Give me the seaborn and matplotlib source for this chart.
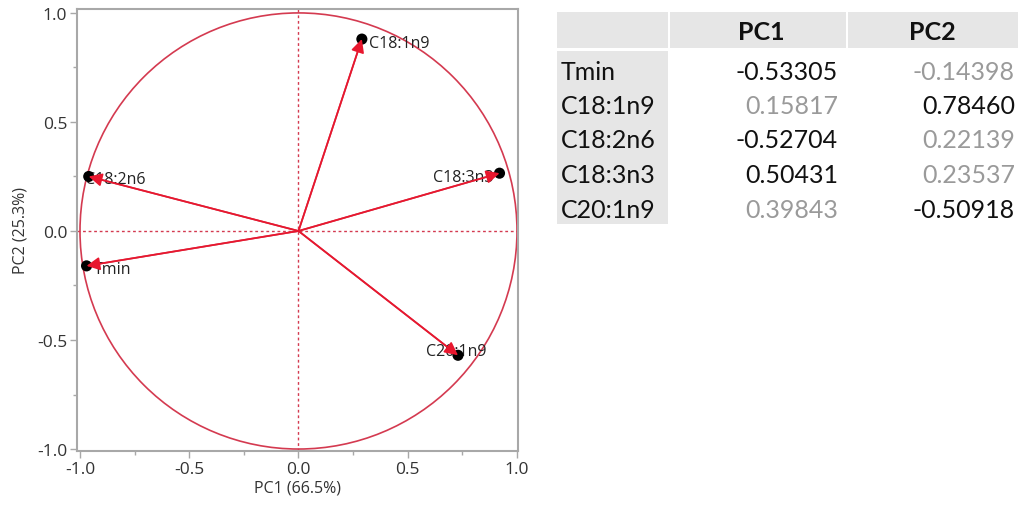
import matplotlib
matplotlib.use("Agg")
import matplotlib.pyplot as plt
from matplotlib.patches import Circle, Rectangle
import seaborn as sns
import pandas as pd

# Loadings (correlations of each variable with PC1 / PC2)
variables = ["Tmin", "C18:1n9", "C18:2n6", "C18:3n3", "C20:1n9"]
load_pc1 = [-0.97, 0.29, -0.96, 0.92, 0.73]
load_pc2 = [-0.16, 0.88, 0.25, 0.265, -0.57]

# Eigenvector table
eig_pc1 = [-0.53305, 0.15817, -0.52704, 0.50431, 0.39843]
eig_pc2 = [-0.14398, 0.78460, 0.22139, 0.23537, -0.50918]
eig_pc1_txt = ["-0.53305", "0.15817", "-0.52704", "0.50431", "0.39843"]
eig_pc2_txt = ["-0.14398", "0.78460", "0.22139", "0.23537", "-0.50918"]

pc1_label = "PC1 (66.5%)"
pc2_label = "PC2 (25.3%)"
x_ticks = [-1.0, -0.5, 0.0, 0.5, 1.0]
y_ticks = [-1.0, -0.5, 0.0, 0.5, 1.0]

sns.set_theme(style="ticks")
plt.rcParams["font.family"] = ["Open Sans", "DejaVu Sans"]

RED = "#d43a50"
HEAD = "#e8172e"
GRID = "#a8a8a8"

df = pd.DataFrame({"var": variables, "pc1": load_pc1, "pc2": load_pc2})

W, H = 1022, 510
fig = plt.figure(figsize=(W / 100, H / 100), dpi=100)
ax = fig.add_axes([77 / W, (H - 452) / H, 441 / W, 442 / H])

ax.set_xlim(-1.0137, 1.0046)
ax.set_ylim(-1.009, 1.018)

# reference lines through the origin
ax.axhline(0, color=RED, lw=1.0, ls=(0, (2, 2)), zorder=1)
ax.axvline(0, color=RED, lw=1.0, ls=(0, (2, 2)), zorder=1)

# unit correlation circle
ax.add_patch(Circle((0, 0), 1.0, fill=False, ec=RED, lw=1.2, zorder=2))

# endpoints
sns.scatterplot(data=df, x="pc1", y="pc2", color="black", s=64,
                edgecolor="none", ax=ax, zorder=4, legend=False)

# arrows from the origin
for x, y in zip(df["pc1"], df["pc2"]):
    ax.annotate("", xy=(x, y), xytext=(0, 0),
                arrowprops=dict(arrowstyle="-",
                                color=RED, lw=1.3, shrinkA=0, shrinkB=0),
                zorder=3)
    ax.annotate("", xy=(x, y), xytext=(0, 0),
                arrowprops=dict(arrowstyle="-|>,head_length=0.8,head_width=0.4",
                                fc=HEAD, ec=HEAD, lw=1.2, mutation_scale=10,
                                shrinkA=0, shrinkB=0),
                zorder=5)

# variable labels (offsets in points)
offsets = {
    "Tmin": (5, -2, "left"),
    "C18:1n9": (5, -3, "left"),
    "C18:2n6": (-3, -2, "left"),
    "C18:3n3": (-4, -3, "right"),
    "C20:1n9": (-23, 3, "left"),
}
for v, x, y in zip(variables, load_pc1, load_pc2):
    dx, dy, ha = offsets[v]
    ax.annotate(v, xy=(x, y), xytext=(dx, dy), textcoords="offset points",
                ha=ha, va="center", fontsize=11.5, color="#222222", zorder=3.5)

ax.set_xticks(x_ticks)
ax.set_yticks(y_ticks)
ax.set_xticks([-0.75, -0.25, 0.25, 0.75], minor=True)
ax.set_yticks([-0.75, -0.25, 0.25, 0.75], minor=True)
ax.set_xticklabels([f"{t:.1f}" for t in x_ticks])
ax.set_yticklabels([f"{t:.1f}" for t in y_ticks])
ax.tick_params(which="major", length=5, width=1, color=GRID,
               labelsize=12.5, labelcolor="#333333", pad=2)
ax.tick_params(which="minor", length=3, width=1, color=GRID)
ax.set_xlabel(pc1_label, fontsize=11.5, color="#333333", labelpad=2)
ax.set_ylabel(pc2_label, fontsize=11.5, color="#333333", labelpad=6)
for sp in ax.spines.values():
    sp.set_visible(True)
    sp.set_color(GRID)
    sp.set_linewidth(1.5)

# eigenvector table
tab = fig.add_axes([0, 0, 1, 1])
tab.set_xlim(0, W)
tab.set_ylim(H, 0)
tab.axis("off")
tab.patch.set_alpha(0)

HDR = "#e6e6e6"
col_x = [557, 670, 848]
col_w = [111, 176, 170]
for cx, cw in zip(col_x, col_w):
    tab.add_patch(Rectangle((cx, 13), cw, 36, fc=HDR, ec="none"))
tab.add_patch(Rectangle((col_x[0], 52), col_w[0], 173, fc=HDR, ec="none"))

tfont = ["Lato", "DejaVu Sans"]
tab.text(761, 32, "PC1", ha="center", va="center", fontsize=18,
         fontweight="bold", family=tfont, color="#111111")
tab.text(932, 32, "PC2", ha="center", va="center", fontsize=18,
         fontweight="bold", family=tfont, color="#111111")

row_y = [72, 107, 141, 176, 211]
for i, v in enumerate(variables):
    y = row_y[i]
    tab.text(561, y, v, ha="left", va="center", fontsize=18,
             family=tfont, color="#111111")
    c1 = "#111111" if abs(eig_pc1[i]) >= 0.4 else "#9a9a9a"
    c2 = "#111111" if abs(eig_pc2[i]) >= 0.4 else "#9a9a9a"
    tab.text(838, y, eig_pc1_txt[i], ha="right", va="center", fontsize=18,
             family=tfont, color=c1)
    tab.text(1015, y, eig_pc2_txt[i], ha="right", va="center", fontsize=18,
             family=tfont, color=c2)

fig.savefig("out.png", dpi=100)
